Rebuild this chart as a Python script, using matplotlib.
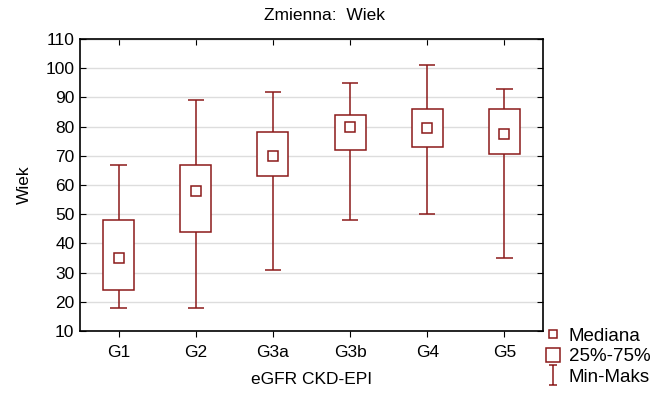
import matplotlib.pyplot as plt
from matplotlib.lines import Line2D
from matplotlib.path import Path

plt.rcParams['font.family'] = ['Liberation Sans', 'DejaVu Sans']

groups = ["G1", "G2", "G3a", "G3b", "G4", "G5"]
mins = [18, 18, 31, 48, 50, 35]
q1 = [24, 44, 63, 72, 73, 70.5]
medians = [35, 58, 70, 80, 79.5, 77.5]
q3 = [48, 67, 78, 84, 86, 86]
maxs = [67, 89, 92, 95, 101, 93]

color = "#8b1a1a"
x = list(range(len(groups)))

fig = plt.figure(figsize=(6.6, 3.94), dpi=100)
ax = fig.add_axes([80/660, 63/394, 463/660, 292/394])

# whiskers
ax.vlines(x, mins, q1, color=color, lw=1.1, zorder=2)
ax.vlines(x, q3, maxs, color=color, lw=1.1, zorder=2)
ax.hlines(mins, [i - 0.105 for i in x], [i + 0.105 for i in x], color=color, lw=1.1, zorder=2)
ax.hlines(maxs, [i - 0.105 for i in x], [i + 0.105 for i in x], color=color, lw=1.1, zorder=2)

# boxes
heights = [b - a for a, b in zip(q1, q3)]
ax.bar(x, heights, bottom=q1, width=0.4, facecolor="white", edgecolor=color, lw=1.1, zorder=3)

# medians
ax.plot(x, medians, ls="none", marker="s", ms=7, mfc="white", mec=color, mew=1.1, zorder=4)

ax.set_xlim(-0.5, 5.5)
ax.set_ylim(10, 110)
ax.set_yticks(range(10, 111, 10))
ax.set_xticks(x)
ax.set_xticklabels(groups)
ax.yaxis.grid(True, color="#dddddd", lw=1)
ax.set_axisbelow(True)
ax.tick_params(axis="y", direction="in", right=True, labelsize=12.5, length=4, pad=4)
ax.tick_params(axis="x", direction="out", labelsize=12.5, length=4, pad=6)
for sp in ax.spines.values():
    sp.set_linewidth(1.2)
# inward ticks at the top
secax = ax.secondary_xaxis("top")
secax.set_xticks(x)
secax.set_xticklabels([])
secax.tick_params(direction="in", length=4)

fig.text(325/660, 1 - 15/394, "Zmienna:  Wiek", fontsize=12.5, ha="center", va="center")
ax.set_xlabel("eGFR CKD-EPI", fontsize=12.5, labelpad=9)
ax.set_ylabel("Wiek", fontsize=12.5, labelpad=10)

whisker = Path([(-0.4, -1), (0.4, -1), (0, -1), (0, 1), (-0.4, 1), (0.4, 1)],
               [Path.MOVETO, Path.LINETO, Path.MOVETO, Path.LINETO, Path.MOVETO, Path.LINETO])
handles = [
    Line2D([], [], ls="none", marker="s", ms=6, mfc="white", mec=color, mew=1.1),
    Line2D([], [], ls="none", marker="s", ms=10.5, mfc="white", mec=color, mew=1.1),
    Line2D([], [], ls="none", marker=whisker, ms=14, mfc="none", mec=color, mew=1.1),
]
fig.legend(handles, ["Mediana", "25%-75%", "Min-Maks"], loc="lower left",
           bbox_to_anchor=(531/660, -5/394), frameon=False, fontsize=13.5,
           handlelength=0.9, handletextpad=0.4, labelspacing=0.18, borderpad=0.2)

fig.savefig("out.png", dpi=100)
